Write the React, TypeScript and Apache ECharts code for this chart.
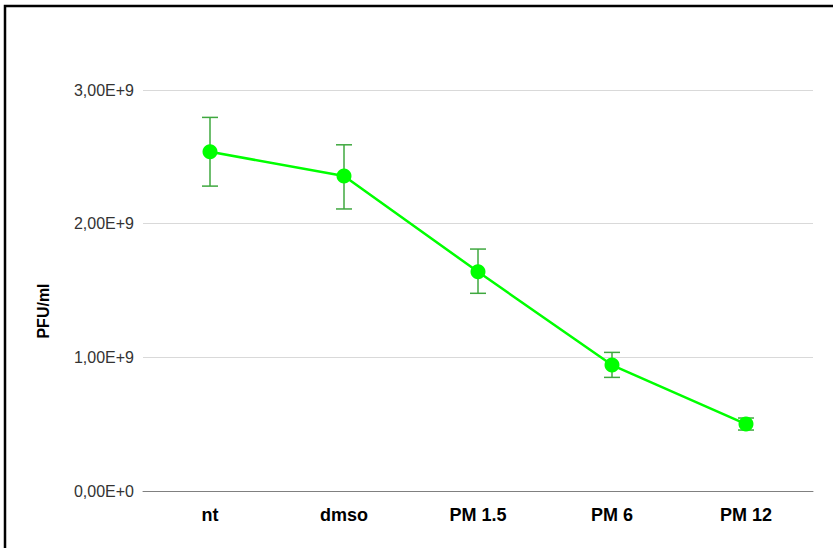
import React, { useEffect, useRef } from "react";
import * as echarts from "echarts";

const categories = ["nt", "dmso", "PM 1.5", "PM 6", "PM 12"];
const means = [2.538e9, 2.356e9, 1.64e9, 0.942e9, 0.501e9];
const upper = [2.795e9, 2.59e9, 1.81e9, 1.037e9, 0.546e9];
const lower = [2.281e9, 2.11e9, 1.479e9, 0.85e9, 0.456e9];
const yTicks = [0, 1e9, 2e9, 3e9];
const yName = "PFU/ml";

function fmt(v: number): string {
  if (v === 0) return "0,00E+0";
  const e = Math.floor(Math.log10(Math.abs(v)));
  const m = v / Math.pow(10, e);
  return m.toFixed(2).replace(".", ",") + "E+" + e;
}

export default function App() {
  const ref = useRef<HTMLDivElement>(null);
  useEffect(() => {
    if (!ref.current) return;
    const chart = echarts.init(ref.current, undefined, { renderer: "svg" });
    const errData = categories.map((c, i) => [i, lower[i], upper[i]]);
    chart.setOption({
      animation: false,
      backgroundColor: "#ffffff",
      grid: { left: 143, right: 20, top: 90, bottom: 57, containLabel: false },
      xAxis: {
        type: "category",
        data: categories,
        boundaryGap: true,
        axisLine: { show: true, lineStyle: { color: "#808080", width: 1 } },
        axisTick: { show: false },
        axisLabel: {
          margin: 15,
          color: "#000",
          fontWeight: "bold",
          fontSize: 18,
          fontFamily: "Liberation Sans",
        },
      },
      yAxis: {
        type: "value",
        min: yTicks[0],
        max: yTicks[yTicks.length - 1],
        interval: yTicks[1] - yTicks[0],
        axisLine: { show: false },
        axisTick: { show: false },
        splitLine: { show: true, lineStyle: { color: "#d9d9d9", width: 1 } },
        axisLabel: {
          margin: 9,
          color: "#333",
          fontSize: 16,
          fontFamily: "Liberation Sans",
          formatter: (v: number) => fmt(v),
        },
      },
      graphic: [
        {
          type: "polyline",
          shape: { points: [[5, 548], [5, 6], [833, 6]] },
          style: { stroke: "#000", lineWidth: 2.5, fill: "none" },
          z: 100,
        },
        {
          type: "text",
          x: 43,
          y: 311,
          rotation: Math.PI / 2,
          style: {
            text: yName,
            fill: "#000",
            font: "bold 16px 'Liberation Sans'",
            align: "center",
            verticalAlign: "middle",
          },
        },
      ],
      series: [
        {
          type: "custom",
          data: errData,
          z: 1,
          renderItem: (params: any, api: any) => {
            const x = api.value(0);
            const lo = api.coord([x, api.value(1)]);
            const hi = api.coord([x, api.value(2)]);
            const hw = 8;
            const style = { stroke: "#3fa83f", lineWidth: 1.5 };
            return {
              type: "group",
              children: [
                { type: "line", shape: { x1: lo[0], y1: lo[1], x2: hi[0], y2: hi[1] }, style },
                { type: "line", shape: { x1: hi[0] - hw, y1: hi[1], x2: hi[0] + hw, y2: hi[1] }, style },
                { type: "line", shape: { x1: lo[0] - hw, y1: lo[1], x2: lo[0] + hw, y2: lo[1] }, style },
              ],
            };
          },
        },
        {
          type: "line",
          data: means,
          z: 5,
          symbol: "circle",
          symbolSize: 15,
          lineStyle: { color: "#00ff00", width: 2.5 },
          itemStyle: { color: "#00ff00" },
        },
      ],
    });
    return () => chart.dispose();
  }, []);
  return (
    <div style={{ position: "fixed", left: 0, top: 0, width: 833, height: 548, background: "#fff" }}>
      <div ref={ref} style={{ width: 833, height: 548 }} />
    </div>
  );
}
